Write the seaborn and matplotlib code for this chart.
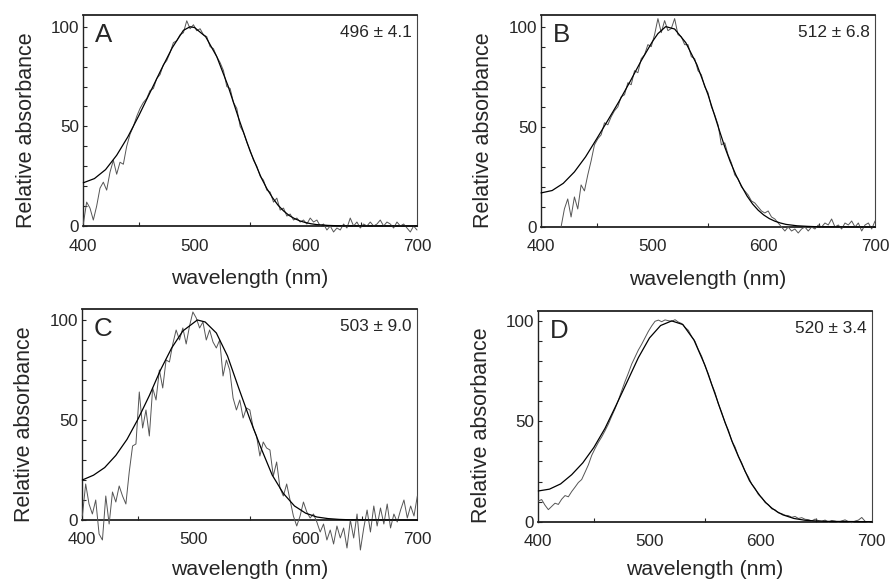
import numpy as np
import matplotlib
matplotlib.use("Agg")
import matplotlib.pyplot as plt
import seaborn as sns

# ---- data ----
# template (smooth) curves
wl_fit_a = [400, 410, 420, 430, 440, 450, 460, 470, 480, 490, 496, 500, 510, 520, 530, 540, 550,
            560, 565, 570, 575, 580, 585, 590, 595, 600, 605, 610, 615, 620, 630, 640, 700]
fit_a = [21.7, 23.8, 28.3, 35.5, 44.7, 55.5, 67, 78.5, 89.5, 98.2, 100, 99.6, 95, 85, 70.5, 53.5, 37.5,
         24.2, 18.8, 14.3, 10.5, 7.6, 5.3, 3.7, 2.5, 1.7, 1.1, 0.7, 0.5, 0.3, 0.1, 0.05, 0]

wl_fit_b = [400, 410, 420, 430, 440, 450, 460, 470, 480, 490, 500, 505, 512, 520, 530, 540, 550,
            560, 565, 570, 575, 580, 585, 590, 595, 600, 605, 610, 615, 620, 630, 640, 650, 700]
fit_b = [17, 18.2, 21.8, 27.5, 35, 44, 53.2, 62.6, 72.6, 83, 92.5, 96.5, 100, 98.8, 92, 81, 66,
         48.5, 40, 32.5, 26, 20.5, 15.5, 11.5, 8.4, 6, 4.2, 2.9, 2, 1.3, 0.6, 0.3, 0.1, 0]

wl_fit_c = [400, 410, 420, 430, 440, 450, 460, 470, 480, 490, 503, 510, 520, 530, 540, 550,
            560, 570, 580, 590, 600, 610, 620, 630, 640, 700]
fit_c = [20, 22.4, 26.2, 32.3, 40.3, 50.6, 62.2, 75, 86, 94.5, 100, 99, 93.5, 82, 66, 50.5,
         36, 22.5, 13.3, 7, 3.4, 1.5, 0.7, 0.3, 0.1, 0]

wl_fit_d = [400, 410, 420, 430, 440, 450, 460, 470, 480, 490, 500, 510, 520, 530, 540, 550,
            560, 565, 570, 575, 580, 585, 590, 595, 600, 605, 610, 615, 620, 630, 640, 650, 660, 700]
fit_d = [15.3, 16.2, 18.8, 23.4, 29.3, 37, 46.5, 58, 69.8, 81.7, 91.5, 97.7, 100, 98.2, 90.5, 77.8,
         62, 54, 46.5, 39, 32.5, 26.4, 20.4, 16.3, 12.5, 9.3, 6.8, 4.9, 3.4, 1.6, 0.7, 0.35, 0.15, 0]

# measured (noisy) spectra, one value every 3 nm
wl_raw_a = np.arange(400, 701, 3)
raw_a = [1, 12, 9, 3, 10, 19, 22, 18, 27, 33,
         26, 32, 31, 40, 46, 50, 55, 59, 62, 64,
         68, 69, 74, 76, 81, 83, 87, 92, 93, 96,
         97, 103, 99, 101, 98, 99, 96, 95, 90, 89,
         85, 82, 78, 70, 69, 62, 59, 50, 47, 42,
         38, 33, 30, 25, 23, 18, 17, 12, 14, 8,
         9, 5, 6, 3, 4, 2, 3, 1, 4, 2,
         3, 0, 1, -2, 0, -3, -1, -2, 1, -1,
         4, 0, 2, -1, 1, 0, 2, 0, 1, 3,
         0, 2, 1, -1, 2, 0, 1, -1, -3, 0,
         -2]

wl_raw_b = np.arange(418, 701, 3)
raw_b = [0, 9, 14, 5, 15, 9, 21, 18, 26, 33,
         41, 44, 46, 52, 51, 55, 58, 60, 65, 66,
         72, 71, 78, 77, 84, 86, 91, 90, 96, 104,
         97, 103, 98, 99, 104, 96, 95, 91, 91, 85,
         84, 78, 76, 70, 67, 60, 56, 51, 41, 42,
         36, 32, 26, 24, 20, 18, 16, 13, 12, 10,
         8, 7, 8, 5, 4, 2, 0, -2, 0, -2,
         -1, -3, -1, 0, -2, 0, -1, 1, 0, 2,
         1, 4, 0, 1, -1, 2, 1, 3, 0, 2,
         -2, 1, 2, -1, 3]

wl_raw_c = np.arange(400, 701, 3)
raw_c = [2, 18, 8, 3, 10, -7, -10, 12, -2, 14,
         9, 17, 12, 8, 24, 37, 38, 64, 46, 55,
         42, 66, 60, 75, 66, 80, 79, 88, 95, 90,
         96, 88, 97, 104, 101, 96, 99, 90, 95, 89,
         86, 90, 72, 80, 75, 61, 55, 60, 51, 56,
         55, 46, 42, 32, 39, 36, 35, 22, 29, 16,
         12, 18, 10, 2, -3, 2, 9, 4, 1, 3,
         -1, -6, -2, -10, -5, -12, -3, -9, -4, -14,
         0, -9, 3, -15, -4, 5, -6, 7, -3, 6,
         -2, 8, -4, 3, -1, 5, 10, 1, 7, 2,
         12]

wl_raw_d = np.arange(400, 701, 3)
raw_d = [10.3, 11.0, 8.2, 6.0, 7.6, 9.2, 8.6, 11.2, 13.0, 12.4,
         15.0, 17.2, 19.5, 21.0, 24.6, 28.3, 33.0, 36.4, 39.5, 42.2,
         45.3, 48.6, 52.5, 56.2, 60.5, 65.2, 69.8, 74.0, 78.5, 82.0,
         85.5, 88.4, 91.6, 94.8, 97.5, 99.8, 100.4, 99.6, 100.5, 100.1,
         99.8, 100.6, 99.4, 98.7, 96.8, 95.3, 92.2, 89.8, 85.7, 82.3,
         77.5, 73.6, 68.4, 64.3, 58.6, 54.4, 49.2, 45.6, 40.3, 37.2,
         32.6, 29.3, 25.0, 22.3, 18.7, 16.6, 13.5, 12.0, 9.6, 8.5,
         6.4, 5.9, 4.4, 4.0, 3.2, 3.0, 2.2, 2.6, 1.6, 2.0,
         1.2, 1.0, 0.4, 1.3, 0.5, 0.2, 0.8, -0.2, 0.6, 0.3,
         -0.3, 0.4, 0.9, 0.0, -0.5, 0.3, 0.8, 2.1, 0.2, -0.4,
         0.2]

letters = ["A", "B", "C", "D"]
lambda_max = ["496 \u00b1 4.1", "512 \u00b1 6.8", "503 \u00b1 9.0", "520 \u00b1 3.4"]
x_ticklabels = ["400", "500", "600", "700"]
y_ticklabels = ["0", "50", "100"]

# ---- style ----
sns.set_style("ticks")
plt.rcParams['font.family'] = ['Liberation Sans', 'DejaVu Sans']

fig = plt.figure(figsize=(8.91, 5.81), dpi=100)

# axes boxes (left, bottom, width, height) and top of y range
boxes = [[0.0935, 0.6110, 0.3745, 0.3632],
         [0.6072, 0.6093, 0.3749, 0.3649],
         [0.0924, 0.1050, 0.3760, 0.3632],
         [0.6042, 0.1021, 0.3742, 0.3632]]
y_tops = [105.9, 105.8, 105.5, 105.1]
# bottom row labels sit tight against the figure edge
xlabel_y = [-0.204, -0.204, -0.19, -0.18]

panels = [(wl_raw_a, raw_a, wl_fit_a, fit_a),
          (wl_raw_b, raw_b, wl_fit_b, fit_b),
          (wl_raw_c, raw_c, wl_fit_c, fit_c),
          (wl_raw_d, raw_d, wl_fit_d, fit_d)]

for i, (wl_raw, raw, wl_fit, fit) in enumerate(panels):
    ax = fig.add_axes(boxes[i])

    # noisy measurement, then the fitted template on top
    sns.lineplot(x=wl_raw, y=raw, ax=ax, color='#555555', lw=0.7,
                 estimator=None, clip_on=False, zorder=3)
    sns.lineplot(x=wl_fit, y=fit, ax=ax, color='black', lw=0.9,
                 estimator=None, clip_on=False, zorder=4)

    ax.set_xlim(400, 700)
    ax.set_ylim(0, y_tops[i])

    # x: labels every 100 nm, small inward ticks at 450/550/650
    ax.set_xticks([int(t) for t in x_ticklabels])
    ax.set_xticklabels(x_ticklabels)
    ax.set_xticks([450, 550, 650], minor=True)
    ax.tick_params(axis='x', which='major', length=0, pad=9, labelsize=12.3)
    ax.tick_params(axis='x', which='minor', direction='in', length=3.2, width=0.8)

    # y: inward ticks every 10, labels at 0/50/100
    ax.set_yticks(range(0, 101, 10))
    ax.set_yticklabels([t if str(t) in y_ticklabels else '' for t in range(0, 101, 10)])
    ax.tick_params(axis='y', direction='in', length=3.2, width=0.8, pad=3, labelsize=12.3)

    # frame
    for side in ['bottom', 'top']:
        ax.spines[side].set_linewidth(1.3)
        ax.spines[side].set_color('#222222')
    ax.spines['left'].set_linewidth(1.0)
    ax.spines['left'].set_color('#222222')
    ax.spines['right'].set_linewidth(0.8)
    ax.spines['right'].set_color('#444444')

    ax.set_xlabel('wavelength (nm)', fontsize=15.3)
    ax.xaxis.set_label_coords(0.5, xlabel_y[i])
    ax.set_ylabel('Relative absorbance', fontsize=15.5)
    ax.yaxis.set_label_coords(-0.14, 0.455)

    # panel letter and lambda max
    ax.text(0.035, 0.872, letters[i], transform=ax.transAxes, fontsize=18.6,
            ha='left', va='baseline')
    ax.text(0.984, 0.894, lambda_max[i], transform=ax.transAxes, fontsize=12.4,
            ha='right', va='baseline')

fig.savefig('out.png', dpi=100, facecolor='white')
